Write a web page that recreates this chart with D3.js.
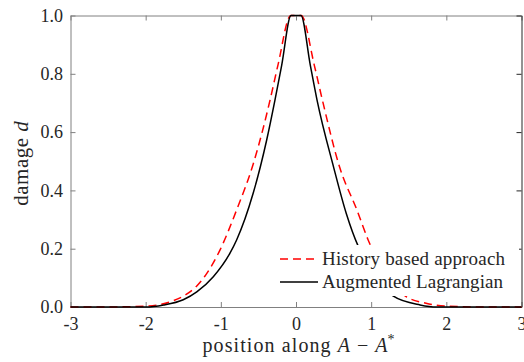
<!DOCTYPE html>
<html lang="en">
<head>
<meta charset="UTF-8">
<title>damage profile</title>
<script src="https://cdn.jsdelivr.net/npm/d3@7"></script>
<style>
    body { margin: 0; background: #fff; }
    svg text { font-family: "Liberation Serif", "DejaVu Serif", serif; fill: #262626; }
    .tick text { font-size: 18px; }
</style>
</head>
<body>
<script>
// values
const historyX = [-3, -2.5, -2.0, -1.67, -1.5, -1.32, -1.2, -1.01, -0.79, -0.57, -0.45, -0.345, -0.24, -0.07,
                  0, 0.07, 0.243, 0.36, 0.58, 0.81, 0.96, 1.2, 1.47, 1.73, 2.0, 2.5, 3];
const historyY = [0, 0, 0.003, 0.018, 0.037, 0.072, 0.11, 0.196, 0.333, 0.49, 0.6, 0.71, 0.83, 1.0,
                  1.0, 1.0, 0.83, 0.7, 0.48, 0.333, 0.23, 0.11, 0.035, 0.013, 0.003, 0, 0];

const augX = [-3, -2.5, -2.0, -1.76, -1.5, -1.32, -1.1, -0.88, -0.79, -0.57, -0.39, -0.28, -0.19, -0.066,
              0, 0.066, 0.19, 0.28, 0.5, 0.67, 0.83, 1.0, 1.1, 1.29, 1.65, 1.87, 2.5, 3];
const augY = [0, 0, 0, 0.007, 0.025, 0.052, 0.104, 0.184, 0.23, 0.39, 0.573, 0.71, 0.83, 1.0,
              1.0, 1.0, 0.83, 0.71, 0.48, 0.32, 0.207, 0.13, 0.095, 0.038, 0.007, 0, 0, 0];

const xTicks = [-3, -2, -1, 0, 1, 2, 3];
const yTicks = [0, 0.2, 0.4, 0.6, 0.8, 1.0];
const legendNames = ["History based approach", "Augmented Lagrangian"];

const width = 524, height = 362;
const margin = { top: 15.5, right: 2.5, bottom: 55, left: 70.5 };
const innerW = width - margin.left - margin.right;
const innerH = height - margin.top - margin.bottom;

const svg = d3.select("body").append("svg")
    .attr("width", width)
    .attr("height", height);

const g = svg.append("g")
    .attr("transform", "translate(" + margin.left + "," + margin.top + ")");

const x = d3.scaleLinear().domain([-3, 3]).range([0, innerW]);
const y = d3.scaleLinear().domain([0, 1]).range([innerH, 0]);

const axisGrey = "#808080";

// box with inward ticks on all four sides
const axBottom = g.append("g").attr("transform", "translate(0," + innerH + ")")
    .call(d3.axisBottom(x).tickValues(xTicks).tickFormat(d3.format("d"))
        .tickSizeInner(-5).tickSizeOuter(0).tickPadding(10));
const axLeft = g.append("g")
    .call(d3.axisLeft(y).tickValues(yTicks).tickFormat(d3.format(".1f"))
        .tickSizeInner(-5).tickSizeOuter(0).tickPadding(7.5));
const axTop = g.append("g")
    .call(d3.axisTop(x).tickValues(xTicks).tickFormat("").tickSizeInner(-5).tickSizeOuter(0));
const axRight = g.append("g").attr("transform", "translate(" + innerW + ",0)")
    .call(d3.axisRight(y).tickValues(yTicks).tickFormat("").tickSizeInner(-5).tickSizeOuter(0));

[axBottom, axLeft, axTop].forEach(a => {
    a.select(".domain").attr("stroke", axisGrey);
    a.selectAll(".tick line").attr("stroke", axisGrey);
});
axRight.select(".domain").attr("stroke", "#262626");
axRight.selectAll(".tick line").attr("stroke", "#262626");
// the reference uses a plain hyphen for negative ticks
axBottom.selectAll(".tick text").text(d => String(d));

// curves
const line = d3.line()
    .x(d => x(d[0]))
    .y(d => y(d[1]))
    .curve(d3.curveMonotoneX);

g.append("path")
    .datum(historyX.map((v, i) => [v, historyY[i]]))
    .attr("d", line)
    .attr("fill", "none")
    .attr("stroke", "#ff0000")
    .attr("stroke-width", 1.5)
    .attr("stroke-dasharray", "8,5");

g.append("path")
    .datum(augX.map((v, i) => [v, augY[i]]))
    .attr("d", line)
    .attr("fill", "none")
    .attr("stroke", "#000")
    .attr("stroke-width", 1.5);

// legend (white box, no border)
const lg = svg.append("g").attr("transform", "translate(272,245)");
lg.append("rect").attr("width", 247).attr("height", 51).attr("fill", "#fff");
const styles = [{ c: "#ff0000", dash: "8,5" }, { c: "#000", dash: null }];
const legendWidths = [183, 181];
legendNames.forEach((name, i) => {
    const yy = 14 + i * 23;
    lg.append("line")
        .attr("x1", 8).attr("x2", 46).attr("y1", yy).attr("y2", yy)
        .attr("stroke", styles[i].c).attr("stroke-width", 1.5)
        .attr("stroke-dasharray", styles[i].dash);
    lg.append("text")
        .attr("x", 50).attr("y", yy).attr("dy", "0.33em")
        .attr("font-size", 19)
        .attr("textLength", legendWidths[i])
        .attr("lengthAdjust", "spacing")
        .text(name);
});

// axis labels
const xl = svg.append("text")
    .attr("x", 298.5).attr("y", 352)
    .attr("text-anchor", "middle").attr("font-size", 20);
xl.append("tspan").attr("letter-spacing", 1.1).text("position along ");
xl.append("tspan").attr("font-style", "italic").text("A");
xl.append("tspan").attr("dx", 7).text("\u2212");
xl.append("tspan").attr("dx", 7).attr("font-style", "italic").text("A");
xl.append("tspan").attr("dy", -8).attr("font-size", 14).text("*");

const yl = svg.append("text")
    .attr("transform", "translate(28," + (margin.top + innerH / 2 + 2) + ") rotate(-90)")
    .attr("text-anchor", "middle").attr("font-size", 21)
    .attr("letter-spacing", 0.5);
yl.append("tspan").text("damage ");
yl.append("tspan").attr("font-style", "italic").text("d");
</script>
</body>
</html>
